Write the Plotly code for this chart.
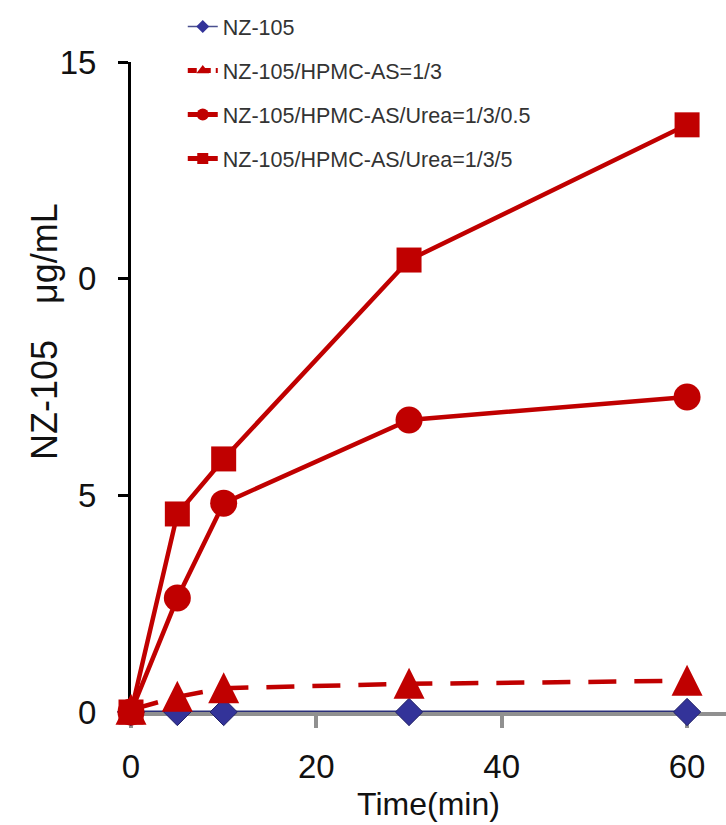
import plotly.graph_objects as go

time_min = [0, 5, 10, 30, 60]
nz105 = [0, 0, 0, 0, 0]
hpmc_1_3 = [0.05, 0.35, 0.55, 0.65, 0.72]
urea_1_3_05 = [0, 2.63, 4.82, 6.74, 7.27]
urea_1_3_5 = [0, 4.57, 5.84, 10.43, 13.55]

names = ["NZ-105", "NZ-105/HPMC-AS=1/3", "NZ-105/HPMC-AS/Urea=1/3/0.5", "NZ-105/HPMC-AS/Urea=1/3/5"]
y_tickvals = [0, 5, 10, 15]
y_ticktext = ["0", "5", "0", "15"]
x_tickvals = [0, 20, 40, 60]

RED = "#C00000"
NAVY = "#2B2F7A"

fig = go.Figure()

# data traces (legend hidden)
fig.add_trace(go.Scatter(x=time_min, y=nz105, mode="lines+markers", showlegend=False,
                         line=dict(color=NAVY, width=3),
                         marker=dict(symbol="diamond", size=21, color="#333399", line=dict(color="#222266", width=1)),
                         cliponaxis=False))
fig.add_trace(go.Scatter(x=time_min, y=hpmc_1_3, mode="lines+markers", showlegend=False,
                         line=dict(color=RED, width=4.5, dash="28px,18px", backoff=0),
                         marker=dict(symbol="arrow-down", angle=180, size=31, standoff=16, color=RED),
                         cliponaxis=False))
fig.add_trace(go.Scatter(x=time_min, y=urea_1_3_05, mode="lines+markers", showlegend=False,
                         line=dict(color=RED, width=4.5),
                         marker=dict(symbol="circle", size=27, color=RED),
                         cliponaxis=False))
fig.add_trace(go.Scatter(x=time_min, y=urea_1_3_5, mode="lines+markers", showlegend=False,
                         line=dict(color=RED, width=4.5),
                         marker=dict(symbol="square", size=25, color=RED),
                         cliponaxis=False))

# legend entries
leg_styles = [
    dict(line=dict(color="#4A4F8F", width=1.5), marker=dict(symbol="diamond", size=10, color="#333399")),
    dict(line=dict(color=RED, width=5, dash="9px,5px"), marker=dict(symbol="triangle-up", size=11, color=RED)),
    dict(line=dict(color=RED, width=5), marker=dict(symbol="circle", size=12, color=RED)),
    dict(line=dict(color=RED, width=5), marker=dict(symbol="square", size=11, color=RED)),
]
for i, (nm, st) in enumerate(zip(names, leg_styles)):
    fig.add_trace(go.Scatter(x=[None], y=[None], mode="lines+markers", name=nm,
                             legendgroup=f"g{i}", showlegend=True, **st))

fig.update_layout(
    width=726, height=825,
    margin=dict(l=131, r=0, t=62, b=113),
    paper_bgcolor="white", plot_bgcolor="white",
    font=dict(family="Liberation Sans, Arial, sans-serif", color="#222222"),
    showlegend=True,
    legend=dict(x=0.087, y=1.086, xanchor="left", yanchor="top",
                font=dict(size=21.5, color="#333333", family="Liberation Sans, Arial, sans-serif"),
                tracegroupgap=13, bgcolor="rgba(0,0,0,0)", borderwidth=0),
    xaxis=dict(range=[0, 64.2], tickvals=x_tickvals, ticks="outside", ticklen=12, tickwidth=4,
               tickcolor="#909090", showline=True, linecolor="#909090", linewidth=4,
               showgrid=False, zeroline=False, layer="below traces",
               tickfont=dict(size=33, family="Liberation Sans, sans-serif", color="#111111"),
               ticklabelstandoff=10,
               title=dict(text="Time(min)", font=dict(size=32, color="#111111"), standoff=10)),
    yaxis=dict(range=[0, 15], tickvals=y_tickvals, ticktext=y_ticktext, ticks="outside", ticklen=10,
               tickwidth=3, tickcolor="black", showline=True, linecolor="black", linewidth=3,
               showgrid=False, zeroline=False, layer="below traces",
               tickfont=dict(size=33, family="Liberation Sans, sans-serif", color="#111111"),
               ticklabelstandoff=15),
    annotations=[dict(text="NZ-105\u3000μg/mL", textangle=-90, xref="paper", yref="paper",
                      x=(44 - 131) / 595, y=1 - (332 - 62) / 650, xanchor="center", yanchor="middle",
                      showarrow=False, font=dict(size=36, color="#111111"))],
)

fig.write_html("out.html")
